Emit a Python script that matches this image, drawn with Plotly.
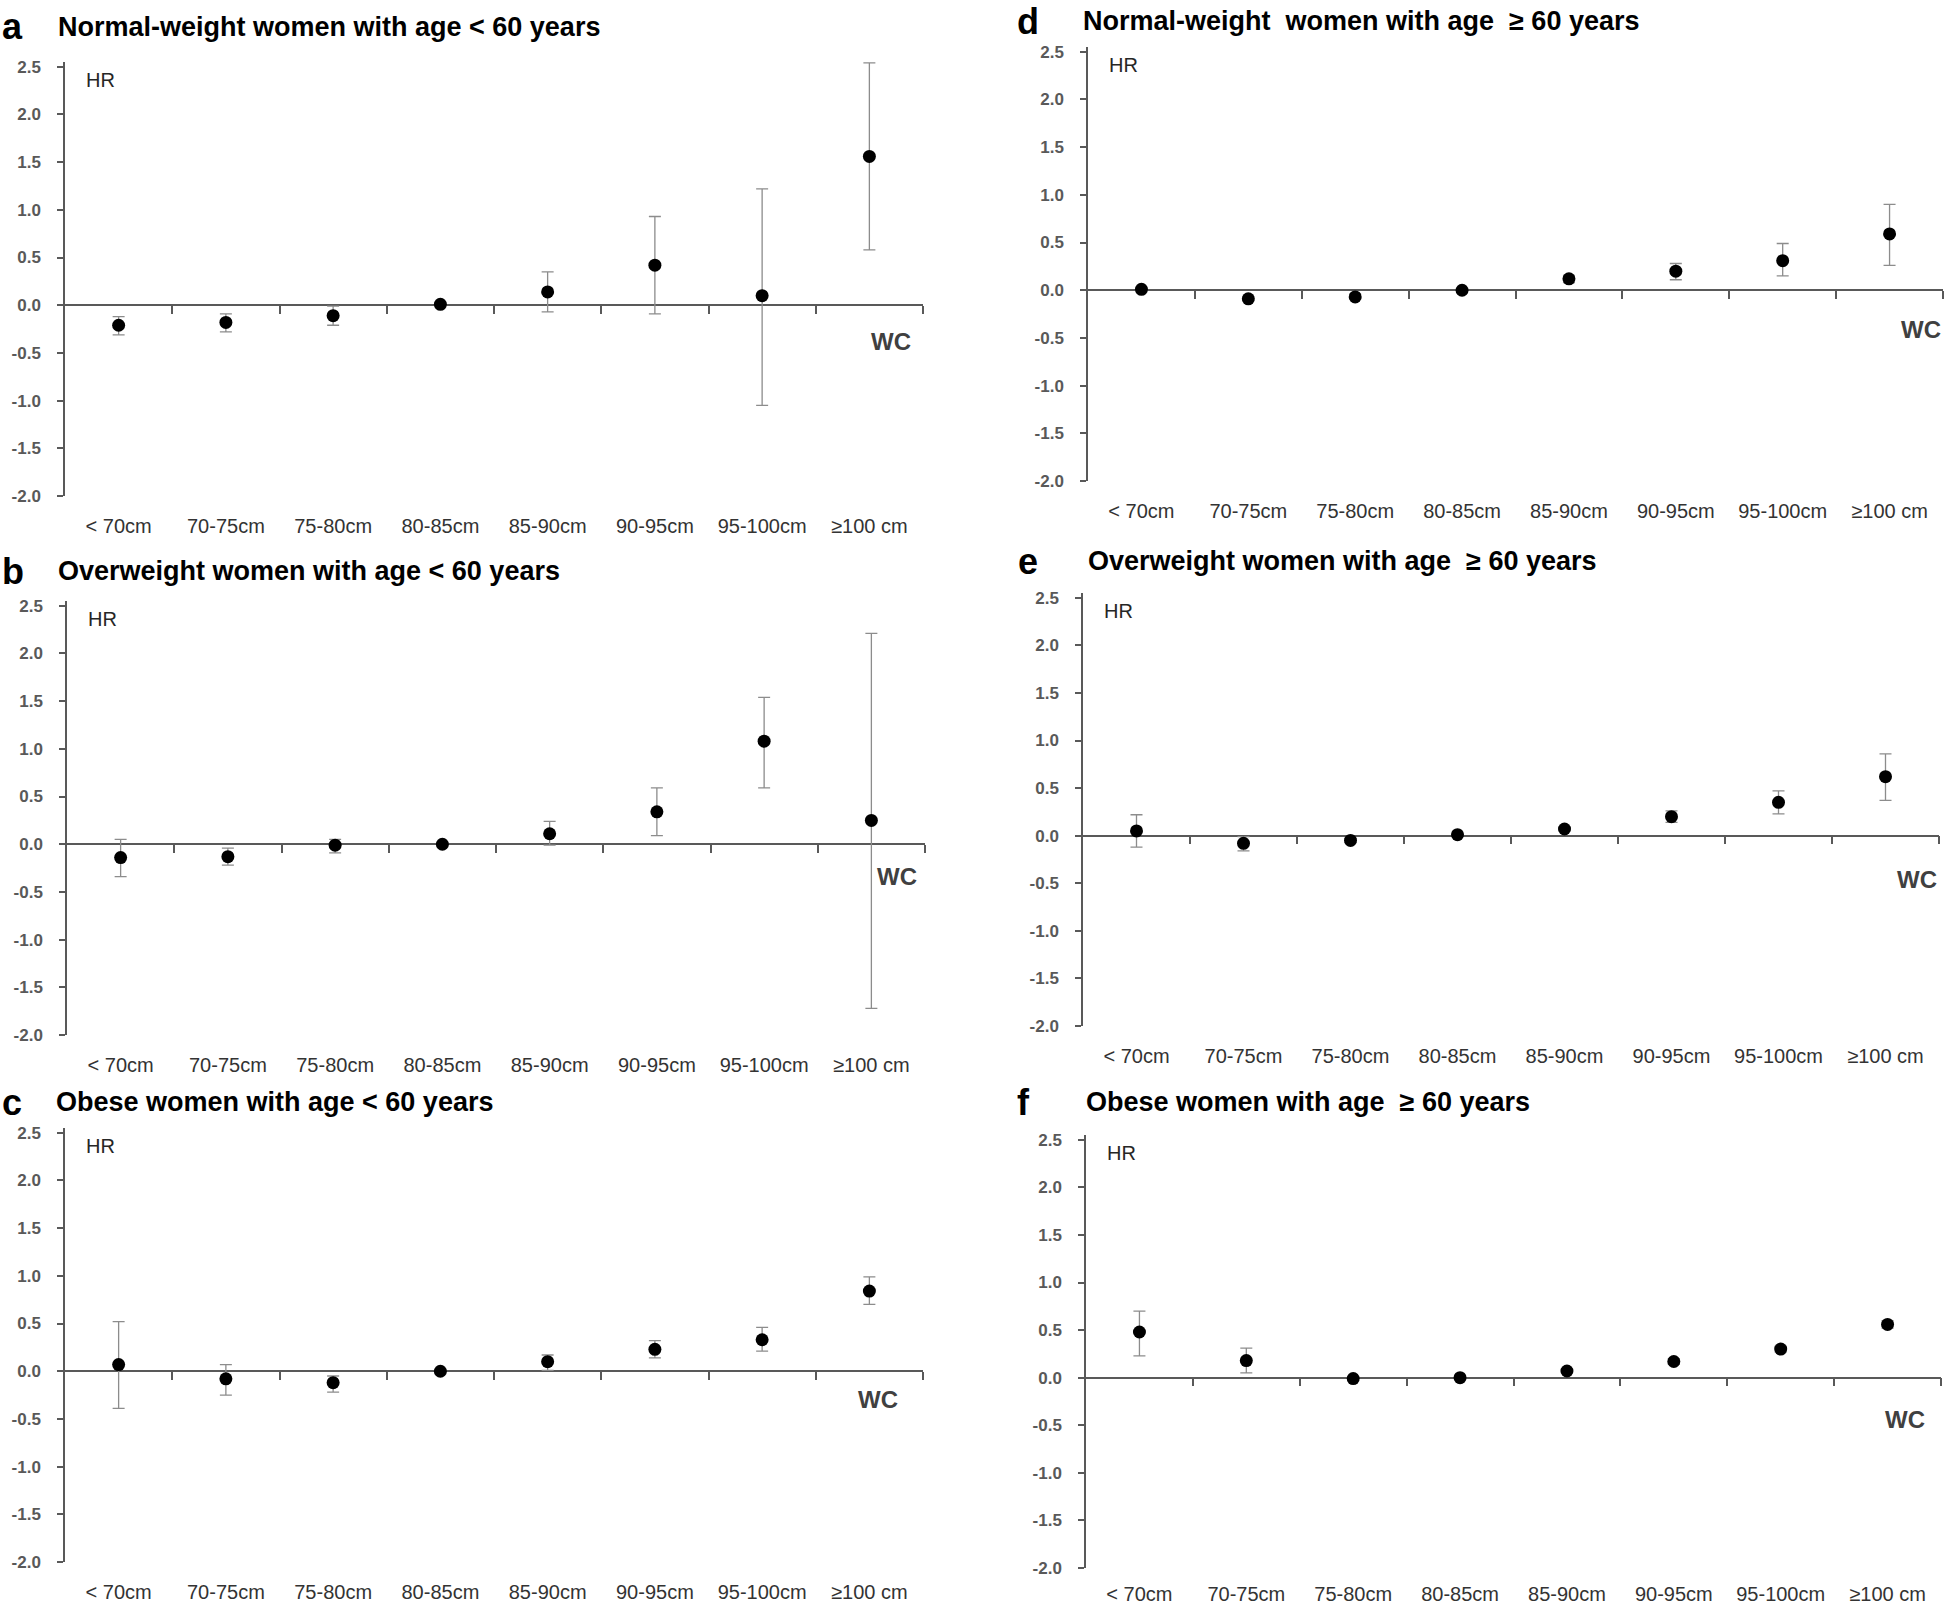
import plotly.graph_objects as go

W, H = 1945, 1606

# Waist-circumference categories (x axis)
categories = ["< 70cm", "70-75cm", "75-80cm", "80-85cm", "85-90cm", "90-95cm", "95-100cm", "≥100 cm"]
y_ticks = [2.5, 2.0, 1.5, 1.0, 0.5, 0.0, -0.5, -1.0, -1.5, -2.0]

# a: normal-weight, age < 60
hr_a = [-0.21, -0.18, -0.11, 0.01, 0.14, 0.42, 0.10, 1.56]
lo_a = [-0.31, -0.28, -0.21, 0.00, -0.07, -0.09, -1.05, 0.58]
hi_a = [-0.12, -0.09, -0.01, 0.02, 0.35, 0.93, 1.22, 2.54]

# b: overweight, age < 60
hr_b = [-0.14, -0.13, -0.01, 0.00, 0.11, 0.34, 1.08, 0.25]
lo_b = [-0.34, -0.22, -0.09, -0.01, -0.01, 0.09, 0.59, -1.72]
hi_b = [0.05, -0.04, 0.05, 0.01, 0.24, 0.59, 1.54, 2.21]

# c: obese, age < 60
hr_c = [0.07, -0.08, -0.12, 0.00, 0.10, 0.23, 0.33, 0.84]
lo_c = [-0.39, -0.25, -0.22, -0.01, 0.01, 0.14, 0.21, 0.70]
hi_c = [0.52, 0.07, -0.05, 0.01, 0.17, 0.32, 0.46, 0.99]

# d: normal-weight, age >= 60
hr_d = [0.01, -0.09, -0.07, 0.00, 0.12, 0.20, 0.31, 0.59]
lo_d = [0.00, -0.11, -0.09, -0.01, 0.08, 0.11, 0.15, 0.26]
hi_d = [0.02, -0.07, -0.04, 0.01, 0.15, 0.28, 0.49, 0.90]

# e: overweight, age >= 60
hr_e = [0.05, -0.08, -0.05, 0.01, 0.07, 0.20, 0.35, 0.62]
lo_e = [-0.12, -0.16, -0.07, 0.00, 0.05, 0.14, 0.23, 0.37]
hi_e = [0.22, -0.01, -0.03, 0.02, 0.09, 0.26, 0.47, 0.86]

# f: obese, age >= 60
hr_f = [0.48, 0.18, -0.01, 0.00, 0.07, 0.17, 0.30, 0.56]
lo_f = [0.23, 0.05, -0.03, -0.01, 0.05, 0.14, 0.27, 0.52]
hi_f = [0.70, 0.31, 0.01, 0.01, 0.09, 0.20, 0.33, 0.60]

letters = ["a", "b", "c", "d", "e", "f"]
titles = [
    "Normal-weight women with age < 60 years",
    "Overweight women with age < 60 years",
    "Obese women with age < 60 years",
    "Normal-weight \u00a0women with age \u00a0≥ 60 years",
    "Overweight women with age \u00a0≥ 60 years",
    "Obese women with age \u00a0≥ 60 years",
]
series = [(hr_a, lo_a, hi_a), (hr_b, lo_b, hi_b), (hr_c, lo_c, hi_c),
          (hr_d, lo_d, hi_d), (hr_e, lo_e, hi_e), (hr_f, lo_f, hi_f)]

# layout in pixels: plot box, title row, WC label position
boxes = [
    (65, 923, 62, 496), (67, 925, 601, 1035), (65, 923, 1128, 1562),
    (1088, 1943, 47, 481), (1083, 1939, 593, 1026), (1086, 1941, 1135, 1568),
]
label_standoff = [16, 16, 16, 16, 16, 12]
title_pos = [  # letter x, text x, y
    (0, 56, 27), (0, 56, 571), (0, 54, 1102),
    (1015, 1081, 21), (1016, 1086, 561), (1015, 1084, 1102),
]
wc_pos = [(7.41, -0.38), (7.44, -0.34), (7.29, -0.30),
          (7.50, -0.41), (7.50, -0.46), (7.37, -0.44)]

YMIN, YMAX = -2.0, 2.55
FONT = "Liberation Sans, Arial, sans-serif"
AXIS_COLOR = "#595959"

fig = go.Figure()
xs = list(range(len(categories)))

for i, (hr, lo, hi) in enumerate(series):
    n = i + 1
    fig.add_trace(go.Scatter(
        x=xs, y=hr, mode="markers",
        marker=dict(color="black", size=13),
        error_y=dict(
            type="data", symmetric=False,
            array=[h - v for h, v in zip(hi, hr)],
            arrayminus=[v - l for v, l in zip(hr, lo)],
            color="#8c8c8c", thickness=1.3, width=6,
        ),
        xaxis=f"x{n}", yaxis=f"y{n}", showlegend=False, hoverinfo="x+y",
    ))
    # dummy trace to register the zero-line axis
    fig.add_trace(go.Scatter(x=[None], y=[None], xaxis=f"x{n + 6}", yaxis=f"y{n}",
                             showlegend=False, hoverinfo="skip"))

    x0, x1, y0, y1 = boxes[i]
    xd = [x0 / W, x1 / W]
    yd = [1 - y1 / H, 1 - y0 / H]
    zero_pos = yd[0] + (0 - YMIN) / (YMAX - YMIN) * (yd[1] - yd[0])

    fig.update_layout({
        f"xaxis{n}": dict(
            domain=xd, anchor=f"y{n}", range=[-0.5, 7.5],
            tickvals=xs, ticktext=categories, showline=False, ticks="",
            showgrid=False, zeroline=False, ticklabelstandoff=label_standoff[i],
            automargin=False,
            tickfont=dict(family=FONT, size=20, color="#333333"),
        ),
        f"xaxis{n + 6}": dict(
            domain=xd, overlaying=f"x{n}", anchor="free", position=zero_pos,
            range=[-0.5, 7.5], tickvals=[k + 0.5 for k in xs],
            showticklabels=False, ticks="outside", ticklen=8, tickwidth=1.5,
            tickcolor=AXIS_COLOR, showline=True, linecolor=AXIS_COLOR, linewidth=1.5,
            showgrid=False, zeroline=False, layer="below traces", automargin=False,
        ),
        f"yaxis{n}": dict(
            domain=yd, anchor=f"x{n}", range=[YMIN, YMAX],
            tickvals=y_ticks, ticktext=[f"{v:.1f}" for v in y_ticks],
            showline=True, linecolor=AXIS_COLOR, linewidth=1.5,
            ticks="outside", ticklen=6, tickwidth=1.5, tickcolor=AXIS_COLOR,
            showgrid=False, zeroline=False, ticklabelstandoff=13, automargin=False,
            tickfont=dict(family=FONT, size=17, color="#595959", weight="bold"),
            layer="below traces",
        ),
    })

    lx, tx, ty = title_pos[i]
    fig.add_annotation(x=lx / W, y=1 - ty / H, xref="paper", yref="paper",
                       text=letters[i], showarrow=False, xanchor="left", yanchor="middle",
                       font=dict(family=FONT, size=36, color="black", weight="bold"))
    fig.add_annotation(x=tx / W, y=1 - ty / H, xref="paper", yref="paper",
                       text=titles[i], showarrow=False, xanchor="left", yanchor="middle",
                       font=dict(family=FONT, size=27, color="black", weight="bold"))
    fig.add_annotation(x=-0.32, y=2.36, xref=f"x{n}", yref=f"y{n}", text="HR",
                       showarrow=False, xanchor="left", yanchor="middle",
                       font=dict(family=FONT, size=20, color="#262626"))
    wx, wy = wc_pos[i]
    fig.add_annotation(x=wx, y=wy, xref=f"x{n}", yref=f"y{n}", text="WC",
                       showarrow=False, xanchor="right", yanchor="middle",
                       font=dict(family=FONT, size=24, color="#404040", weight="bold"))

fig.update_layout(
    width=W, height=H,
    margin=dict(l=0, r=0, t=0, b=0),
    paper_bgcolor="white", plot_bgcolor="white",
    font=dict(family=FONT),
)

# the page body has a default 8px margin; drop it so the figure fills the window
fig.write_html("out.html", config={"displayModeBar": False},
               post_script="document.body.style.margin = '0';")
